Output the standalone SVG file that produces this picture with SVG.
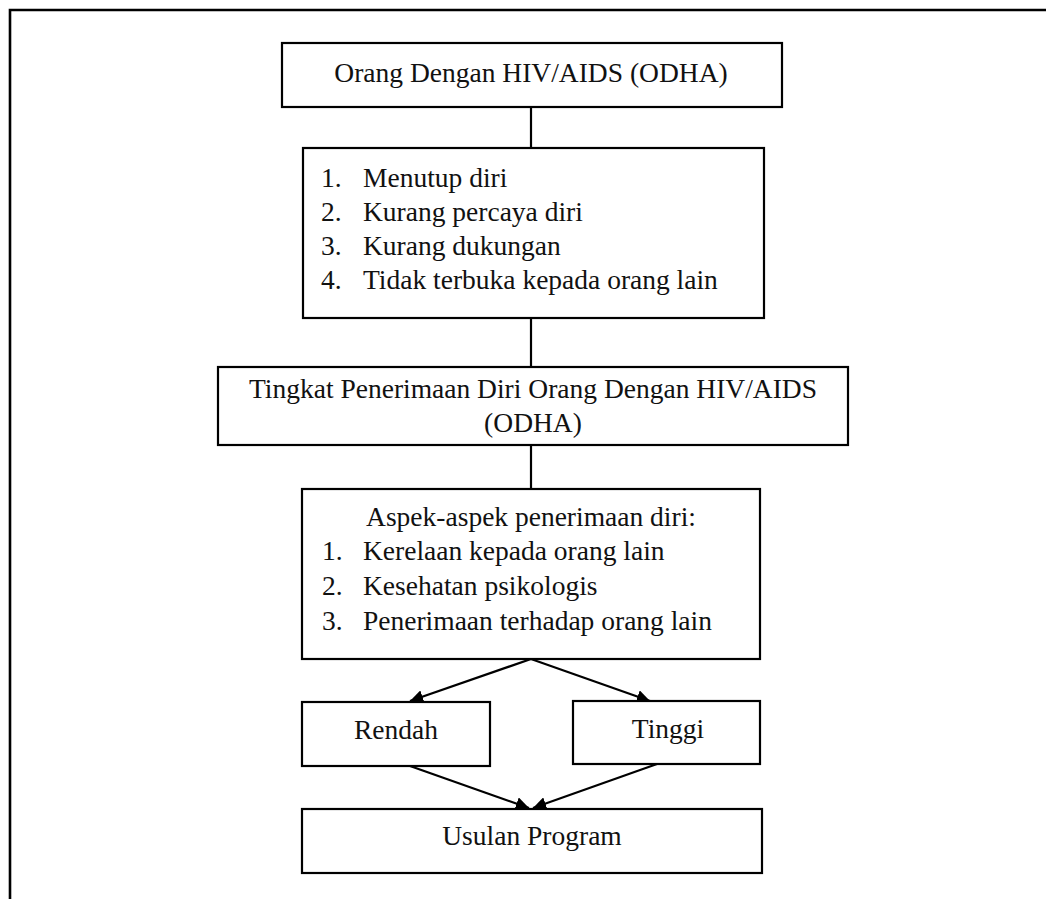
<svg xmlns="http://www.w3.org/2000/svg" width="1046" height="899" viewBox="0 0 1046 899">
<style>
.box{fill:#fff;stroke:#000;stroke-width:2.2}
.t{font-family:"Liberation Serif","Times New Roman",serif;font-size:27.5px;fill:#111}
.c{text-anchor:middle}
.ln{stroke:#000;stroke-width:2.2;fill:none}
</style>
<defs>
<marker id="ah" viewBox="0 0 10 10" refX="10" refY="5" markerWidth="6" markerHeight="6" markerUnits="strokeWidth" orient="auto">
<path d="M0,0 L10,5 L0,10 z" fill="#000"/>
</marker>
</defs>
<rect width="1046" height="899" fill="#fff"/>
<g id="frame">
<path d="M10,899 V10 H1046" fill="none" stroke="#000" stroke-width="2.6"/>
</g>
<g id="connectors">
<line class="ln" x1="531" y1="107" x2="531" y2="148"/>
<line class="ln" x1="531" y1="318" x2="531" y2="367"/>
<line class="ln" x1="531" y1="445" x2="531" y2="489"/>
<line class="ln" x1="531" y1="659" x2="410" y2="701" marker-end="url(#ah)"/>
<line class="ln" x1="531" y1="659" x2="650" y2="701" marker-end="url(#ah)"/>
<line class="ln" x1="410" y1="766" x2="529" y2="808" marker-end="url(#ah)"/>
<line class="ln" x1="657" y1="764" x2="533" y2="808" marker-end="url(#ah)"/>
</g>
<g id="n1">
<rect class="box" x="282" y="43" width="500" height="64"/>
<text class="t c" x="531" y="82">Orang Dengan HIV/AIDS (ODHA)</text>
</g>
<g id="n2">
<rect class="box" x="303" y="148" width="461" height="170"/>
<text class="t" x="321" y="187">1.</text><text class="t" x="363" y="187">Menutup diri</text>
<text class="t" x="321" y="221">2.</text><text class="t" x="363" y="221">Kurang percaya diri</text>
<text class="t" x="321" y="255">3.</text><text class="t" x="363" y="255">Kurang dukungan</text>
<text class="t" x="321" y="289">4.</text><text class="t" x="363" y="289">Tidak terbuka kepada orang lain</text>
</g>
<g id="n3">
<rect class="box" x="218" y="367" width="630" height="78"/>
<text class="t c" x="533" y="398">Tingkat Penerimaan Diri Orang Dengan HIV/AIDS</text>
<text class="t c" x="533" y="432">(ODHA)</text>
</g>
<g id="n4">
<rect class="box" x="302" y="489" width="458" height="170"/>
<text class="t c" x="531" y="526">Aspek-aspek penerimaan diri:</text>
<text class="t" x="322" y="560">1.</text><text class="t" x="363" y="560">Kerelaan kepada orang lain</text>
<text class="t" x="322" y="595">2.</text><text class="t" x="363" y="595">Kesehatan psikologis</text>
<text class="t" x="322" y="630">3.</text><text class="t" x="363" y="630">Penerimaan terhadap orang lain</text>
</g>
<g id="n5">
<rect class="box" x="302" y="702" width="188" height="64"/>
<text class="t c" x="396" y="739">Rendah</text>
</g>
<g id="n6">
<rect class="box" x="573" y="701" width="187" height="63"/>
<text class="t c" x="668" y="738">Tinggi</text>
</g>
<g id="n7">
<rect class="box" x="302" y="809" width="460" height="64"/>
<text class="t c" x="532" y="845">Usulan Program</text>
</g>
</svg>
